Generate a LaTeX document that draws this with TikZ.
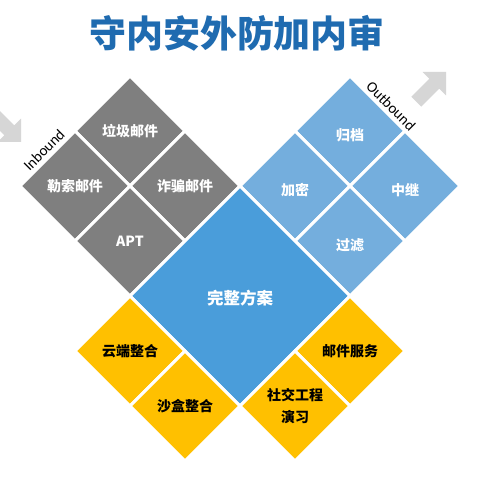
\documentclass[tikz,border=0pt]{standalone}
\usepackage{fontspec}
\setmainfont{Noto Sans CJK SC}
\newfontfamily\latinfont{Carlito}
\usetikzlibrary{shapes.geometric,calc}
\definecolor{titleblue}{HTML}{1F6BB0}
\definecolor{cellgray}{HTML}{7F7F7F}
\definecolor{celllblue}{HTML}{74AEDD}
\definecolor{cellblue}{HTML}{4A9DDA}
\definecolor{cellyellow}{HTML}{FFC000}
\definecolor{arrowgray}{HTML}{D6D6D6}
\newcommand\lowtxt[1]{\raisebox{-4pt}[\height][\depth]{#1}}
\begin{document}
\begin{tikzpicture}[x=1pt,y=1pt,
  cell/.style={diamond, aspect=1, inner sep=0pt, outer sep=0pt,
    minimum width=110pt, minimum height=110pt, draw=white, line width=3pt,
    font=\bfseries\fontsize{14}{22}\selectfont, align=center},
  graycell/.style={cell, fill=cellgray, text=white},
  bluecell/.style={cell, fill=celllblue, text=white},
  yellowcell/.style={cell, fill=cellyellow, text=black},
  bigcell/.style={cell, minimum width=220pt, minimum height=220pt, fill=cellblue, text=white,
    font=\bfseries\fontsize{16.5}{20}\selectfont},
  dirlabel/.style={font=\latinfont\fontsize{15}{17}\selectfont, text=black, inner sep=0pt},
  bigarrow/.style={fill=arrowgray}
]
\fill[white] (0,0) rectangle (480,480);
\useasboundingbox (0,0) rectangle (480,480);
\clip (0,0) rectangle (480,480);

% title
\node[font=\bfseries\fontsize{37}{40}\selectfont, text=titleblue, inner sep=0pt] (title) at (237,447) {守内安外防加内审};

% decorative arrows
\begin{scope}[shift={(21,338)}, rotate=-45]
  \fill[bigarrow] (0,0) -- (-16.5,16.5) -- (-16.5,7) -- (-45,7) -- (-45,-7) -- (-16.5,-7) -- (-16.5,-16.5) -- cycle;
\end{scope}
\begin{scope}[shift={(446,408)}, rotate=45]
  \fill[bigarrow] (0,0) -- (-16.5,16.5) -- (-16.5,7) -- (-42,7) -- (-42,-7) -- (-16.5,-7) -- (-16.5,-16.5) -- cycle;
\end{scope}

% inbound block
\node[graycell] (junk)   at (130,349) {垃圾邮件};
\node[graycell] (ransom) at (75,294)  {勒索邮件};
\node[graycell] (fraud)  at (185,294) {诈骗邮件};
\node[graycell] (apt)    at (130,239) {APT};

% outbound block
\node[bluecell] (archive) at (350,349) {\lowtxt{归档}};
\node[bluecell] (encrypt) at (295,294) {\lowtxt{加密}};
\node[bluecell] (relay)   at (405,294) {\lowtxt{中继}};
\node[bluecell] (filter)  at (350,239) {\lowtxt{过滤}};

% center
\node[bigcell] (whole) at (240,184) {\raisebox{-2pt}[\height][\depth]{完整方案}};

% yellow blocks
\node[yellowcell] (cloud)   at (130,129) {云端整合};
\node[yellowcell] (sandbox) at (185,74)  {沙盒整合};
\node[yellowcell] (mailsvc) at (350,129) {邮件服务};
\node[yellowcell] (social)  at (295,74)  {社交工程\\演习};

% direction labels
\node[dirlabel, rotate=45]  (inbound)  at ($(ransom.center)+(-31,36)$) {Inbound};
\node[dirlabel, rotate=-45] (outbound) at ($(archive.center)+(41,25)$) {Outbound};
\end{tikzpicture}
\end{document}
